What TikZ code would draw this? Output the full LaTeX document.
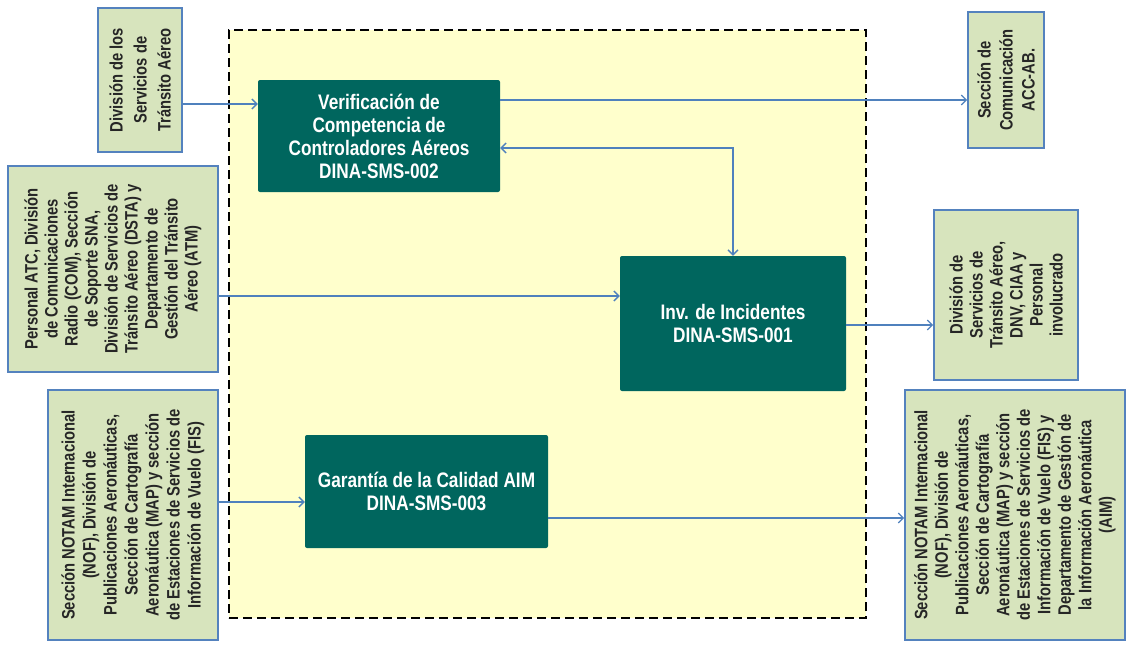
\documentclass[tikz,border=0pt]{standalone}
\usepackage{fontspec}
\setmainfont{Liberation Sans}
\newfontfamily\narrowsans{Liberation Sans}[FakeStretch=0.82]
\usetikzlibrary{arrows.meta}

\definecolor{procfill}{RGB}{0,102,94}
\definecolor{sidefill}{RGB}{215,228,189}
\definecolor{sideedge}{RGB}{84,130,190}
\definecolor{flowblue}{RGB}{79,129,189}
\definecolor{zonefill}{RGB}{255,255,204}

\tikzset{
  zone/.style={draw=black, dash pattern=on 9pt off 5pt, line width=1.5pt,
    fill=zonefill, minimum width=#1, inner sep=0pt},
  procbox/.style={fill=procfill, rounded corners=2pt, inner sep=0pt,
    text=white, align=center,
    font=\narrowsans\bfseries\fontsize{21}{23}\selectfont},
  sidebox/.style={draw=sideedge, line width=1.6pt, fill=sidefill, inner sep=0pt},
  sidetext/.style={rotate=90, align=center, inner sep=0pt, text=black!85,
    font=\narrowsans\bfseries\fontsize{18}{#1}\selectfont},
  flow/.style={draw=flowblue, line width=1.3pt,
    -{Straight Barb[length=5pt,width=10pt,line width=1.3pt]}},
  flowboth/.style={draw=flowblue, line width=1.3pt,
    {Straight Barb[length=5pt,width=10pt,line width=1.3pt]}-{Straight Barb[length=5pt,width=10pt,line width=1.3pt]}}
}

\begin{document}
\begin{tikzpicture}[x=1pt,y=-1pt]
\useasboundingbox (0,0) rectangle (1129,645);
\fill[white] (0,0) rectangle (1129,645);

% dashed process area
\node[zone=637pt, minimum height=588pt] (zone) at (547.5,324) {};

% processes
\node[procbox, minimum width=242pt, minimum height=112pt] (V) at (379,136)
  {Verificación de\\Competencia de\\Controladores Aéreos\\DINA-SMS-002};
\node[procbox, minimum width=226pt, minimum height=135pt] (I) at (733,323.5)
  {Inv. de Incidentes\\DINA-SMS-001};
\node[procbox, minimum width=243pt, minimum height=113pt] (G) at (426.5,491.5)
  {Garantía de la Calidad AIM\\DINA-SMS-003};

% suppliers and clients
\node[sidebox, minimum width=84pt, minimum height=144pt] (L1) at (140,80) {};
\node[sidetext=24] (L1t) at (L1.center)
  {División de los\\Servicios de\\Tránsito Aéreo};

\node[sidebox, minimum width=76pt, minimum height=136pt] (R1) at (1006,80) {};
\node[sidetext=22] (R1t) at (R1.center)
  {Sección de\\Comunicación\\ACC-AB.};

\node[sidebox, minimum width=210pt, minimum height=206pt] (L2) at (113,269) {};
\node[sidetext=20] (L2t) at (L2.center)
  {Personal ATC, División\\de Comunicaciones\\Radio (COM), Sección\\de Soporte SNA,\\División de Servicios de\\Tránsito Aéreo (DSTA) y\\Departamento de\\Gestión del Tránsito\\Aéreo (ATM)};

\node[sidebox, minimum width=144pt, minimum height=170pt] (R2) at (1006,295) {};
\node[sidetext=20] (R2t) at (R2.center)
  {División de\\Servicios de\\Tránsito Aéreo,\\DNV, CIAA y\\Personal\\involucrado};

\node[sidebox, minimum width=170pt, minimum height=250pt] (L3) at (133,515) {};
\node[sidetext=21] (L3t) at (L3.center)
  {Sección NOTAM Internacional\\(NOF), División de\\Publicaciones Aeronáuticas,\\Sección de Cartografía\\Aeronáutica (MAP) y sección\\de Estaciones de Servicios de\\Información de Vuelo (FIS)};

\node[sidebox, minimum width=220pt, minimum height=250pt] (R3) at (1015,515) {};
\node[sidetext=20.5] (R3t) at (R3.center)
  {Sección NOTAM Internacional\\(NOF), División de\\Publicaciones Aeronáuticas,\\Sección de Cartografía\\Aeronáutica (MAP) y sección\\de Estaciones de Servicios de\\Información de Vuelo (FIS) y\\Departamento de Gestión de\\la Información Aeronáutica\\(AIM)};

% connector levels
\coordinate (ya) at (0,104);
\coordinate (yb) at (0,100);
\coordinate (yc) at (0,148);
\coordinate (yd) at (0,296);
\coordinate (ye) at (0,325);
\coordinate (yf) at (0,502);
\coordinate (yg) at (0,518);

% flows
\draw[flow] (L1.east |- ya) -- (V.west |- ya);
\draw[flow] (V.east |- yb) -- (R1.west |- yb);
\draw[flowboth] (V.east |- yc) -| (I.north);
\draw[flow] (L2.east |- yd) -- (I.west |- yd);
\draw[flow] (I.east |- ye) -- (R2.west |- ye);
\draw[flow] (L3.east |- yf) -- (G.west |- yf);
\draw[flow] (G.east |- yg) -- (R3.west |- yg);
\end{tikzpicture}
\end{document}
